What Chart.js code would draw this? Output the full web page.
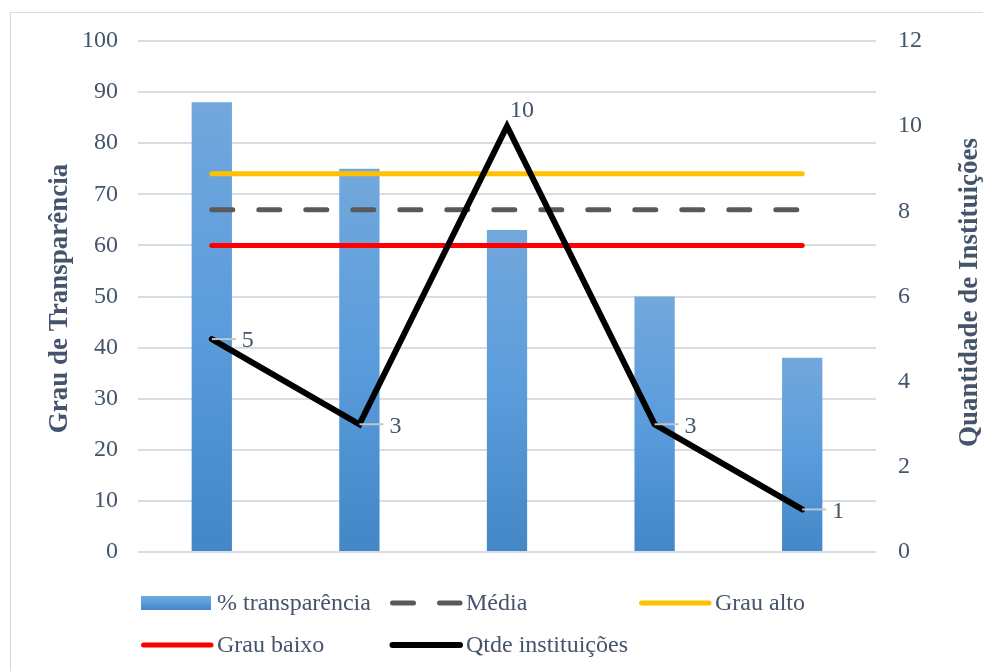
<!DOCTYPE html>
<html>
<head>
<meta charset="utf-8">
<script src="https://cdn.jsdelivr.net/npm/chart.js@4.4.1/dist/chart.umd.min.js"></script>
<style>
  html, body { margin: 0; padding: 0; background: #ffffff; overflow: hidden; }
  #frame { position: absolute; left: 10px; top: 12px; width: 1000px; height: 700px; border: 1px solid #d9d9d9; box-sizing: border-box; }
  #wrap { position: absolute; left: 0; top: 0; width: 983px; height: 671px; }
</style>
</head>
<body>
<div id="frame"></div>
<div id="wrap"><canvas id="c" width="983" height="671"></canvas></div>
<script>
// ---- data ----
const categories = ["1", "2", "3", "4", "5"];
const transparencia = [88, 75, 63, 50, 38];
const media = [67, 67, 67, 67, 67];
const grauAlto = [74, 74, 74, 74, 74];
const grauBaixo = [60, 60, 60, 60, 60];
const qtdeInstituicoes = [5, 3, 10, 3, 1];
const seriesNames = ["% transparência", "Média", "Grau alto", "Grau baixo", "Qtde instituições"];
const leftTitle = "Grau de Transparência";
const rightTitle = "Quantidade de Instituições";

const FONT = "'Liberation Serif', 'Times New Roman', serif";
const TEXT = "#44546A";
const GRID = "#d9dde3";

function barGradient(ctx2d, top, bottom) {
  const g = ctx2d.createLinearGradient(0, top, 0, bottom);
  g.addColorStop(0, "#72a8dc");
  g.addColorStop(0.5, "#5a9cdc");
  g.addColorStop(1, "#4387c7");
  return g;
}

const titlesPlugin = {
  id: "titles",
  afterDraw(chart) {
    const c = chart.ctx, a = chart.chartArea;
    const cy = (a.top + a.bottom) / 2;
    c.save();
    c.fillStyle = TEXT;
    c.font = "bold 27px " + FONT;
    c.textAlign = "center";
    c.textBaseline = "middle";
    c.translate(60, cy + 2);
    c.rotate(-Math.PI / 2);
    c.fillText(leftTitle, 0, 0);
    c.restore();
    c.save();
    c.fillStyle = TEXT;
    c.font = "bold 27px " + FONT;
    c.textAlign = "center";
    c.textBaseline = "middle";
    c.translate(970, cy - 4);
    c.rotate(-Math.PI / 2);
    c.fillText(rightTitle, 0, 0);
    c.restore();
  }
};

const labelsPlugin = {
  id: "pointLabels",
  afterDatasetsDraw(chart) {
    const idx = chart.data.datasets.findIndex(d => d.label === seriesNames[4]);
    const meta = chart.getDatasetMeta(idx);
    const vals = chart.data.datasets[idx].data;
    const c = chart.ctx;
    c.save();
    c.font = "24px " + FONT;
    c.fillStyle = TEXT;
    c.textAlign = "left";
    c.textBaseline = "middle";
    meta.data.forEach((pt, i) => {
      const v = vals[i];
      const interior = i > 0 && i < vals.length - 1;
      if (interior && v > vals[i - 1] && v > vals[i + 1]) {
        c.fillText(String(v), pt.x + 3, pt.y - 15);
      } else {
        c.strokeStyle = "#bfc4cc";
        c.lineWidth = 2;
        c.beginPath();
        c.moveTo(pt.x, pt.y);
        c.lineTo(pt.x + 24, pt.y);
        c.stroke();
        c.fillText(String(v), pt.x + 30, pt.y + 2);
      }
    });
    c.restore();
  }
};

const legendPlugin = {
  id: "customLegend",
  afterDraw(chart) {
    const c = chart.ctx;
    const ds = chart.data.datasets;
    c.save();
    c.font = "24px " + FONT;
    c.textBaseline = "middle";
    c.textAlign = "left";
    ds.forEach((d, i) => {
      const col = i % 3, row = Math.floor(i / 3);
      const x = 141 + col * 249;
      const y = 603 + row * 42;
      if (d.type === "bar") {
        c.fillStyle = barGradient(c, y - 7, y + 7);
        c.fillRect(x, y - 7, 70, 14);
      } else {
        c.strokeStyle = d.borderColor;
        c.lineWidth = d.borderWidth;
        c.lineCap = "round";
        c.setLineDash(d.borderDash || []);
        c.beginPath();
        c.moveTo(x + 2.5, y);
        c.lineTo(x + 70, y);
        c.stroke();
        c.setLineDash([]);
      }
      c.fillStyle = TEXT;
      c.fillText(d.label, x + 76, y + 1);
    });
    c.restore();
  }
};

const chart = new Chart(document.getElementById("c"), {
  data: {
    labels: categories,
    datasets: [
      {
        type: "bar",
        label: seriesNames[0],
        data: transparencia,
        yAxisID: "y",
        order: 5,
        barPercentage: 0.273,
        categoryPercentage: 1,
        backgroundColor: (ctx) => {
          const ch = ctx.chart;
          if (!ch.chartArea || ctx.type !== "data") return "#5b9bd5";
          const ys = ch.scales.y;
          return barGradient(ch.ctx, ys.getPixelForValue(ctx.raw), ys.getPixelForValue(0));
        },
        borderWidth: 0
      },
      {
        type: "line",
        label: seriesNames[1],
        data: media,
        yAxisID: "y",
        order: 4,
        borderColor: "#595959",
        borderWidth: 5,
        borderDash: [21, 26],
        borderCapStyle: "round",
        pointRadius: 0,
        fill: false
      },
      {
        type: "line",
        label: seriesNames[2],
        data: grauAlto,
        yAxisID: "y",
        order: 3,
        borderColor: "#ffc000",
        borderWidth: 5,
        borderCapStyle: "round",
        pointRadius: 0,
        fill: false
      },
      {
        type: "line",
        label: seriesNames[3],
        data: grauBaixo,
        yAxisID: "y",
        order: 2,
        borderColor: "#ff0000",
        borderWidth: 5,
        borderCapStyle: "round",
        pointRadius: 0,
        fill: false
      },
      {
        type: "line",
        label: seriesNames[4],
        data: qtdeInstituicoes,
        yAxisID: "y1",
        order: 1,
        borderColor: "#000000",
        borderWidth: 6,
        borderCapStyle: "round",
        borderJoinStyle: "miter",
        pointRadius: 0,
        tension: 0,
        fill: false
      }
    ]
  },
  options: {
    responsive: false,
    animation: false,
    devicePixelRatio: 1,
    layout: { padding: { top: 41, bottom: 119, left: 0, right: 0 } },
    plugins: {
      legend: { display: false },
      tooltip: { enabled: false }
    },
    scales: {
      x: {
        type: "category",
        display: false,
        offset: true,
        grid: { display: false }
      },
      y: {
        position: "left",
        min: 0,
        max: 100,
        ticks: { stepSize: 10, padding: 20, color: TEXT, font: { family: FONT, size: 24 } },
        grid: { color: GRID, lineWidth: 2, drawTicks: false },
        border: { display: false },
        afterFit: (s) => { s.width = 138; }
      },
      y1: {
        position: "right",
        min: 0,
        max: 12,
        ticks: { stepSize: 2, padding: 22, color: TEXT, font: { family: FONT, size: 24 } },
        grid: { drawOnChartArea: false, drawTicks: false },
        border: { display: false },
        afterFit: (s) => { s.width = 107; }
      }
    }
  },
  plugins: [labelsPlugin, titlesPlugin, legendPlugin]
});
</script>
</body>
</html>
